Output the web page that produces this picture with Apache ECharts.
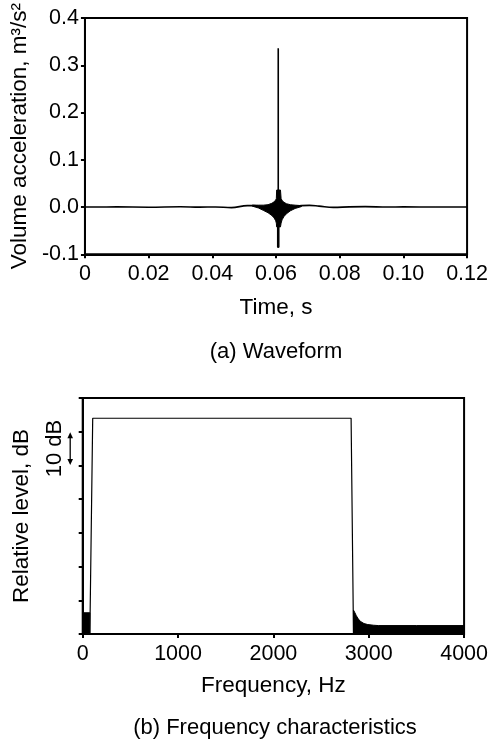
<!DOCTYPE html>
<html>
<head>
<meta charset="utf-8">
<script src="https://cdn.jsdelivr.net/npm/echarts@6/dist/echarts.min.js"></script>
<style>
html,body{margin:0;padding:0;background:#fff;}
#chart{width:491px;height:745px;}
</style>
</head>
<body>
<div id="chart"></div>
<script>
// ---------- (a) Waveform data ----------
const timeTicks = [0, 0.02, 0.04, 0.06, 0.08, 0.10, 0.12];
const timeTickLabels = ['0', '0.02', '0.04', '0.06', '0.08', '0.10', '0.12'];
const accTicks = [-0.1, 0, 0.1, 0.2, 0.3, 0.4];
const accTickLabels = ['-0.1', '0.0', '0.1', '0.2', '0.3', '0.4'];

// slow low-level trace
const waveT = [0, 0.010, 0.020, 0.030, 0.036, 0.041, 0.046, 0.051, 0.053, 0.056, 0.060, 0.0607, 0.062, 0.066, 0.068, 0.0705, 0.0735, 0.078, 0.083, 0.088, 0.095, 0.100, 0.110, 0.120];
const waveV = [0, 0.0003, -0.0003, 0.0006, -0.0002, 0.0002, -0.0012, 0.003, 0.003, -0.001, -0.005, -0.005, -0.004, 0.001, 0.003, 0.0035, 0.002, -0.0006, 0.0004, 0.0008, 0.0, 0.0003, 0, 0];

// envelope of the dense oscillation around the impulse
const blobT     = [0.0525, 0.0545, 0.0560, 0.0575, 0.0587, 0.0594, 0.0599, 0.0601, 0.0602, 0.0614, 0.0616, 0.0619, 0.0625, 0.0633, 0.0645, 0.0660, 0.0680];
const blobUpper = [0.004, 0.004, 0.004, 0.005, 0.008, 0.011, 0.015, 0.018, 0.036, 0.036, 0.018, 0.014, 0.010, 0.007, 0.005, 0.004, 0.003];
const blobLower = [0.002, -0.002, -0.007, -0.012, -0.018, -0.023, -0.029, -0.034, -0.042, -0.042, -0.034, -0.027, -0.020, -0.014, -0.008, -0.003, 0.001];

// impulse spike
const spikeT = [0.0607, 0.0607];
const spikeV = [0.336, 0.02];
const spikeLowT = [0.0607, 0.0607];
const spikeLowV = [-0.03, -0.084];

// ---------- (b) Frequency characteristics data ----------
const freqTicks = [0, 1000, 2000, 3000, 4000];
const levelTicks = [0, 10, 20, 30, 40, 50, 60, 70];

const passF = [75, 83, 105, 2815, 2840];
const passL = [0, 0, 64, 64, 0];

const lowBandF = [0, 75];
const lowBandUpper = [6.3, 6.3];
const lowBandLower = [0, 0];

const tailF = [2840, 2855, 2870, 2890, 2910, 2950, 2990, 3050, 3100, 3500, 4000];
const tailUpper = [7.1, 6.3, 5.4, 4.5, 3.8, 3.1, 2.8, 2.6, 2.5, 2.5, 2.5];
const tailLower = [0, 0, 0, 0, 0, 0, 0, 0, 0, 0, 0];

// ---------- chart ----------
const FONT = "'Liberation Sans', Arial, sans-serif";
const chart = echarts.init(document.getElementById('chart'), null, {renderer: 'canvas'});

function zip(a, b) { return a.map((v, i) => [v, b[i]]); }

function envelope(xi, yi, xs, up, lo) {
  return {
    type: 'custom', xAxisIndex: xi, yAxisIndex: yi, silent: true, z: 3,
    data: xs.map((x, i) => [x, up[i], lo[i]]),
    encode: {x: 0, y: [1, 2]},
    renderItem: function (params, api) {
      if (params.dataIndex !== 0) return null;
      const pts = [];
      for (let i = 0; i < xs.length; i++) pts.push(api.coord([xs[i], up[i]]));
      for (let i = xs.length - 1; i >= 0; i--) pts.push(api.coord([xs[i], lo[i]]));
      return {type: 'polygon', shape: {points: pts}, style: {fill: '#000', stroke: '#000', lineWidth: 1}};
    }
  };
}

const axisCommon = {
  axisLine: {show: true, onZero: false, lineStyle: {color: '#000', width: 2}},
  axisTick: {show: true, inside: false, length: 4, lineStyle: {color: '#000', width: 2}},
  splitLine: {show: false},
  nameTextStyle: {color: '#000', fontSize: 22.5, fontFamily: FONT},
  axisLabel: {color: '#000', fontSize: 21.5, fontFamily: FONT}
};

const option = {
  backgroundColor: '#fff',
  animation: false,
  grid: [
    {left: 82.7, top: 17, width: 386.6, height: 237.3, show: true, borderColor: '#000', borderWidth: 2, backgroundColor: 'transparent'},
    {left: 82.7, top: 398, width: 386.6, height: 236, show: true, borderColor: '#000', borderWidth: 2, backgroundColor: 'transparent'}
  ],
  xAxis: [
    Object.assign({}, axisCommon, {
      type: 'value', gridIndex: 0, min: 0, max: 0.12, interval: 0.02,
      name: 'Time, s', nameLocation: 'middle', nameGap: 42,
      axisLabel: Object.assign({}, axisCommon.axisLabel, {margin: 9, formatter: v => {
        const i = timeTicks.findIndex(t => Math.abs(t - v) < 1e-9); return i >= 0 ? timeTickLabels[i] : '';
      }})
    }),
    Object.assign({}, axisCommon, {
      type: 'value', gridIndex: 1, min: 0, max: 4000, interval: 1000,
      name: 'Frequency, Hz', nameLocation: 'middle', nameGap: 40,
      axisLabel: Object.assign({}, axisCommon.axisLabel, {margin: 9, formatter: v => String(freqTicks.find(t => t === v) ?? '')})
    })
  ],
  yAxis: [
    Object.assign({}, axisCommon, {
      type: 'value', gridIndex: 0, min: -0.1, max: 0.4, interval: 0.1,
      name: 'Volume acceleration, m³/s²', nameLocation: 'middle', nameGap: 47,
      axisLabel: Object.assign({}, axisCommon.axisLabel, {margin: 6, formatter: v => {
        const i = accTicks.findIndex(t => Math.abs(t - v) < 1e-9); return i >= 0 ? accTickLabels[i] : '';
      }})
    }),
    Object.assign({}, axisCommon, {
      type: 'value', gridIndex: 1, min: levelTicks[0], max: levelTicks[levelTicks.length - 1], interval: 10,
      name: 'Relative level, dB', nameLocation: 'middle', nameGap: 49,
      axisLabel: {show: false}
    })
  ],
  series: [
    {type: 'line', xAxisIndex: 0, yAxisIndex: 0, data: zip(waveT, waveV), showSymbol: false, smooth: 0.4,
     lineStyle: {color: '#000', width: 1.6}, z: 2, silent: true},
    envelope(0, 0, blobT, blobUpper, blobLower),
    {type: 'line', xAxisIndex: 0, yAxisIndex: 0, data: zip(spikeT, spikeV), showSymbol: false,
     lineStyle: {color: '#000', width: 1.6}, z: 4, silent: true},
    {type: 'line', xAxisIndex: 0, yAxisIndex: 0, data: zip(spikeLowT, spikeLowV), showSymbol: false,
     lineStyle: {color: '#000', width: 2.6, cap: 'round'}, z: 4, silent: true},

    {type: 'line', xAxisIndex: 1, yAxisIndex: 1, data: zip(passF, passL), showSymbol: false,
     lineStyle: {color: '#000', width: 1.2}, z: 2, silent: true},
    envelope(1, 1, lowBandF, lowBandUpper, lowBandLower),
    envelope(1, 1, tailF, tailUpper, tailLower)
  ]
};
chart.setOption(option);

// annotation: 10 dB scale arrow, placed through the axis scale
const x0 = chart.convertToPixel({gridIndex: 1}, [0, 60])[0];
const yA = chart.convertToPixel({gridIndex: 1}, [0, 60])[1];
const yB = chart.convertToPixel({gridIndex: 1}, [0, 50])[1];
const ax = x0 - 12.5;
chart.setOption({
  graphic: [
    {type: 'line', shape: {x1: ax, y1: yA + 5, x2: ax, y2: yB - 5}, style: {stroke: '#000', lineWidth: 1.3}},
    {type: 'polygon', shape: {points: [[ax, yA + 0.5], [ax - 2.8, yA + 6.5], [ax + 2.8, yA + 6.5]]}, style: {fill: '#000'}},
    {type: 'polygon', shape: {points: [[ax, yB - 0.5], [ax - 2.8, yB - 6.5], [ax + 2.8, yB - 6.5]]}, style: {fill: '#000'}},
    {type: 'text', x: x0 - 28, y: (yA + yB) / 2, rotation: Math.PI / 2,
     style: {text: '10 dB', fill: '#000', font: '22px ' + FONT, textAlign: 'center', textVerticalAlign: 'middle'}},
    {type: 'text', x: 276, y: 352,
     style: {text: '(a) Waveform', fill: '#000', font: '22px ' + FONT, textAlign: 'center', textVerticalAlign: 'middle'}},
    {type: 'text', x: 275, y: 728,
     style: {text: '(b) Frequency characteristics', fill: '#000', font: '22px ' + FONT, textAlign: 'center', textVerticalAlign: 'middle'}}
  ]
});
</script>
</body>
</html>
